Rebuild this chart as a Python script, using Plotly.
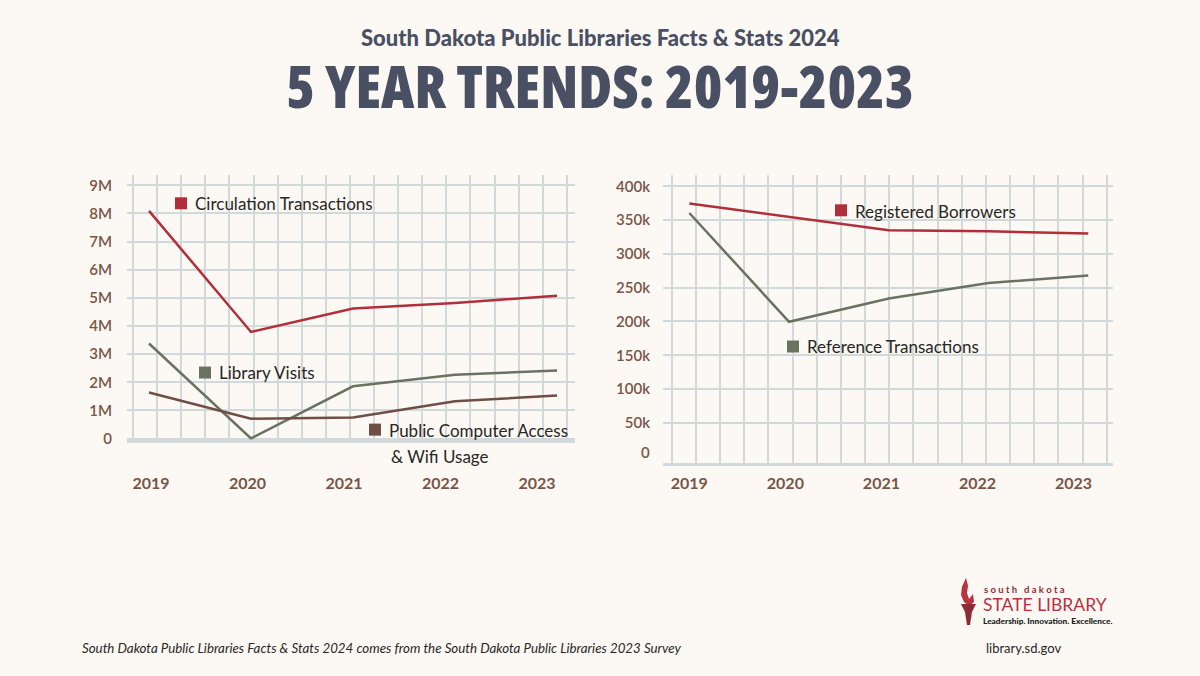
import plotly.graph_objects as go

# ---------------- data ----------------
years = [2019, 2020, 2021, 2022, 2023]
circulation = [8.09e6, 3.79e6, 4.62e6, 4.82e6, 5.08e6]
library_visits = [3.38e6, 0.01e6, 1.86e6, 2.27e6, 2.42e6]
public_computer = [1.64e6, 0.71e6, 0.75e6, 1.33e6, 1.53e6]

registered_borrowers = [374.5e3, 354.5e3, 335e3, 333.5e3, 330e3]
reference_transactions = [360.5e3, 199.5e3, 234e3, 257e3, 268e3]

left_yticks = [0, 1e6, 2e6, 3e6, 4e6, 5e6, 6e6, 7e6, 8e6, 9e6]
left_yticktext = ["0", "1M", "2M", "3M", "4M", "5M", "6M", "7M", "8M", "9M"]
right_yticks = [0, 50e3, 100e3, 150e3, 200e3, 250e3, 300e3, 350e3, 400e3]
right_yticktext = ["0", "50k", "100k", "150k", "200k", "250k", "300k", "350k", "400k"]
year_labels = ["2019", "2020", "2021", "2022", "2023"]

# ---------------- style ----------------
BG = "#fcf9f4"
GRID = "#d2d9da"
RED = "#b12f3a"
GREEN = "#6b7262"
BROWN = "#6f4e43"
LABEL = "#7a5447"
TITLE = "#4a5064"
TXT = "#2a2626"
W, H = 1200, 676
FIG_H = 684          # page is photographed slightly squeezed vertically
FONT = "Lato"
LW = 2.5


def px_x(p):
    return p / W


def px_y(p):
    return 1 - p / H


fig = go.Figure()

fig.add_trace(go.Scatter(x=years, y=circulation, mode="lines", line=dict(color=RED, width=LW),
                         xaxis="x", yaxis="y", hoverinfo="skip"))
fig.add_trace(go.Scatter(x=years, y=library_visits, mode="lines", line=dict(color=GREEN, width=LW),
                         xaxis="x", yaxis="y", hoverinfo="skip"))
fig.add_trace(go.Scatter(x=years, y=public_computer, mode="lines", line=dict(color=BROWN, width=LW),
                         xaxis="x", yaxis="y", hoverinfo="skip"))
fig.add_trace(go.Scatter(x=years, y=registered_borrowers, mode="lines", line=dict(color=RED, width=LW),
                         xaxis="x2", yaxis="y2", hoverinfo="skip"))
fig.add_trace(go.Scatter(x=years, y=reference_transactions, mode="lines", line=dict(color=GREEN, width=LW),
                         xaxis="x2", yaxis="y2", hoverinfo="skip"))

# year labels sit a little tighter than the data points
left_label_pos = [years[0] + 0.02 + i * 0.946 for i in range(len(years))]
right_label_pos = [years[0] + i * 0.963 for i in range(len(years))]

tickfont_y = dict(family=FONT, size=15, color=LABEL, weight=600)
tickfont_x = dict(family=FONT, size=16, color=LABEL, weight=700)

fig.update_layout(
    width=W, height=FIG_H, autosize=False,
    margin=dict(l=0, r=0, t=0, b=0),
    paper_bgcolor=BG, plot_bgcolor=BG,
    showlegend=False,
    xaxis=dict(
        domain=[px_x(127), px_x(575)], range=[2018.7843, 2023.1765],
        tickvals=left_label_pos, ticktext=year_labels, tickfont=tickfont_x,
        ticks="", ticklabelstandoff=27,
        showgrid=False, zeroline=False,
        showline=True, linecolor=GRID, linewidth=3,
        minor=dict(showgrid=True, tick0=2018.843, dtick=0.2363, gridcolor=GRID, gridwidth=2, ticks=""),
        anchor="y", fixedrange=True,
    ),
    yaxis=dict(
        domain=[px_y(439), px_y(175)], range=[-35573, 9355700],
        tickvals=left_yticks, ticktext=left_yticktext, tickfont=tickfont_y,
        ticks="", ticklabelstandoff=14,
        showgrid=True, gridcolor=GRID, gridwidth=2, zeroline=False,
        anchor="x", fixedrange=True,
    ),
    xaxis2=dict(
        domain=[px_x(663), px_x(1113)], range=[2018.736, 2023.248],
        tickvals=right_label_pos, ticktext=year_labels, tickfont=tickfont_x,
        ticks="", ticklabelstandoff=4,
        showgrid=False, zeroline=False,
        showline=True, linecolor=GRID, linewidth=3,
        minor=dict(showgrid=True, tick0=2018.8236, dtick=0.2423, gridcolor=GRID, gridwidth=2, ticks=""),
        anchor="y2", fixedrange=True,
    ),
    yaxis2=dict(
        domain=[px_y(462), px_y(175)], range=[-8889, 416296],
        tickvals=right_yticks[1:], ticktext=right_yticktext[1:], tickfont=tickfont_y,
        ticks="", ticklabelstandoff=12,
        showgrid=True, gridcolor=GRID, gridwidth=2, zeroline=False,
        anchor="x2", fixedrange=True,
    ),
)

annotations = []
shapes = []

# "0" label of the right chart (no grid line drawn at zero there)
annotations.append(dict(x=px_x(652), y=px_y(451), xref="paper", yref="paper", text=right_yticktext[0],
                        showarrow=False, xanchor="right", yanchor="middle",
                        font=dict(family=FONT, size=15, color=LABEL, weight=600)))

# Titles
annotations.append(dict(x=0.5, y=px_y(37), xref="paper", yref="paper",
                        text="South Dakota Public Libraries Facts & Stats 2024",
                        showarrow=False, xanchor="center", yanchor="middle",
                        font=dict(family=FONT, size=22, color=TITLE, weight=900)))
annotations.append(dict(x=0.5, y=px_y(85), xref="paper", yref="paper",
                        text="<span style='font-stretch:condensed'>5 YEAR TRENDS: 2019-2023</span>",
                        showarrow=False, xanchor="center", yanchor="middle",
                        font=dict(family="Open Sans", size=58, color=TITLE, weight=800)))


def legend_item(sq_x, sq_y, color, text, text_x, text_y):
    shapes.append(dict(type="rect", xref="paper", yref="paper",
                       x0=px_x(sq_x), x1=px_x(sq_x + 12), y0=px_y(sq_y + 12), y1=px_y(sq_y),
                       fillcolor=color, line=dict(width=0)))
    annotations.append(dict(x=px_x(text_x), y=px_y(text_y), xref="paper", yref="paper",
                            text=text, showarrow=False, xanchor="left", yanchor="middle",
                            font=dict(family=FONT, size=17, color=TXT)))


legend_item(175, 197, RED, "Circulation Transactions", 193, 203)
legend_item(199, 366, GREEN, "Library Visits", 217, 372)
legend_item(369, 423, BROWN, "Public Computer Access", 387, 430)
annotations.append(dict(x=px_x(389), y=px_y(456), xref="paper", yref="paper",
                        text="& Wifi Usage", showarrow=False, xanchor="left", yanchor="middle",
                        font=dict(family=FONT, size=17, color=TXT)))
legend_item(835, 204, RED, "Registered Borrowers", 853, 211)
legend_item(787, 340, GREEN, "Reference Transactions", 805, 346)

# Footer
annotations.append(dict(x=px_x(80), y=px_y(647), xref="paper", yref="paper",
                        text="<i>South Dakota Public Libraries Facts & Stats 2024 comes from the South Dakota Public Libraries 2023 Survey</i>",
                        showarrow=False, xanchor="left", yanchor="middle",
                        font=dict(family=FONT, size=13.3, color=TXT)))
annotations.append(dict(x=px_x(984), y=px_y(647), xref="paper", yref="paper",
                        text="library.sd.gov", showarrow=False, xanchor="left", yanchor="middle",
                        font=dict(family=FONT, size=13, color=TXT)))

# Logo text
annotations.append(dict(x=px_x(982), y=px_y(589), xref="paper", yref="paper",
                        text="s o u t h   d a k o t a", showarrow=False, xanchor="left", yanchor="middle",
                        font=dict(family=FONT, size=9.5, color="#8c2d36", weight=700)))
annotations.append(dict(x=px_x(981), y=px_y(604), xref="paper", yref="paper",
                        text="STATE LIBRARY", showarrow=False, xanchor="left", yanchor="middle",
                        font=dict(family=FONT, size=17.5, color="#b8323f")))
annotations.append(dict(x=px_x(981), y=px_y(620), xref="paper", yref="paper",
                        text="Leadership. Innovation. Excellence.", showarrow=False, xanchor="left",
                        yanchor="middle", font=dict(family=FONT, size=8.3, color="#1a1a1a", weight=900)))


def pth(points):
    return "M " + " L ".join(f"{px_x(a):.5f},{px_y(b):.5f}" for a, b in points) + " Z"


# Torch icon
shapes.append(dict(type="path", xref="paper", yref="paper",
                   path=pth([(966, 577), (962, 586), (961, 594), (964, 601), (969, 605),
                             (974, 601), (973, 593), (969, 598), (967, 592), (968, 585)]),
                   fillcolor="#b8323f", line=dict(width=0)))
shapes.append(dict(type="path", xref="paper", yref="paper",
                   path=pth([(961, 603), (976, 603), (972, 611), (970, 624), (967, 624), (965, 611)]),
                   fillcolor="#8c2d36", line=dict(width=0)))

fig.update_layout(annotations=annotations, shapes=shapes)

post = (
    "var s=document.createElement('style');"
    "s.textContent='html,body{margin:0;padding:0;overflow:hidden;background:#fcf9f4;}';"
    "document.head.appendChild(s);"
)
fig.write_html("out.html", config={"displayModeBar": False, "responsive": False}, post_script=post)
